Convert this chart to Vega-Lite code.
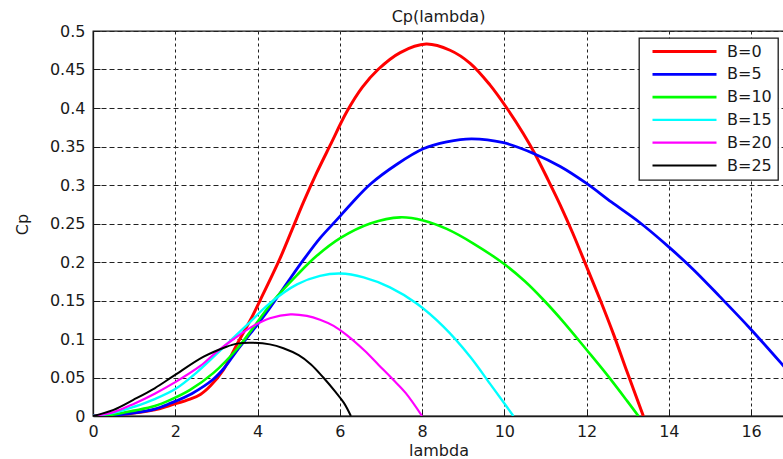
{
  "$schema": "https://vega.github.io/schema/vega-lite/v6.json",
  "autosize": "none",
  "padding": {"left": 93, "top": 31, "right": 0, "bottom": 43},
  "width": 691,
  "height": 385,
  "background": "white",
  "title": {"text": "Cp(lambda)", "font": "DejaVu Sans", "fontSize": 16, "fontWeight": "normal", "color": "#1a1a1a", "offset": 0, "dy": 2, "anchor": "middle"},
  "config": {
    "view": {"stroke": "#1a1a1a", "strokeWidth": 1.3},
    "legend": {"strokeWidth": 1.3}
  },
  "datasets": {
    "curves": [
      {"B": "B=0", "lambda": 0, "cp": 0}, {"B": "B=0", "lambda": 0.5, "cp": 0.001}, {"B": "B=0", "lambda": 1, "cp": 0.004}, {"B": "B=0", "lambda": 1.5, "cp": 0.008}, {"B": "B=0", "lambda": 1.88, "cp": 0.014}, {"B": "B=0", "lambda": 2.36, "cp": 0.022}, {"B": "B=0", "lambda": 2.61, "cp": 0.028}, {"B": "B=0", "lambda": 2.85, "cp": 0.039}, {"B": "B=0", "lambda": 3.17, "cp": 0.06}, {"B": "B=0", "lambda": 3.5, "cp": 0.093}, {"B": "B=0", "lambda": 3.82, "cp": 0.124}, {"B": "B=0", "lambda": 4.07, "cp": 0.151}, {"B": "B=0", "lambda": 4.55, "cp": 0.205}, {"B": "B=0", "lambda": 4.84, "cp": 0.242}, {"B": "B=0", "lambda": 5.12, "cp": 0.278}, {"B": "B=0", "lambda": 5.44, "cp": 0.316}, {"B": "B=0", "lambda": 5.77, "cp": 0.352}, {"B": "B=0", "lambda": 6.17, "cp": 0.395}, {"B": "B=0", "lambda": 6.55, "cp": 0.427}, {"B": "B=0", "lambda": 6.93, "cp": 0.45}, {"B": "B=0", "lambda": 7.47, "cp": 0.472}, {"B": "B=0", "lambda": 8.1, "cp": 0.483}, {"B": "B=0", "lambda": 8.68, "cp": 0.475}, {"B": "B=0", "lambda": 9.17, "cp": 0.458}, {"B": "B=0", "lambda": 9.65, "cp": 0.43}, {"B": "B=0", "lambda": 10.06, "cp": 0.4}, {"B": "B=0", "lambda": 10.46, "cp": 0.367}, {"B": "B=0", "lambda": 10.75, "cp": 0.34}, {"B": "B=0", "lambda": 11.07, "cp": 0.306}, {"B": "B=0", "lambda": 11.36, "cp": 0.274}, {"B": "B=0", "lambda": 11.66, "cp": 0.238}, {"B": "B=0", "lambda": 12.0, "cp": 0.194}, {"B": "B=0", "lambda": 12.33, "cp": 0.151}, {"B": "B=0", "lambda": 12.65, "cp": 0.107}, {"B": "B=0", "lambda": 12.98, "cp": 0.058}, {"B": "B=0", "lambda": 13.38, "cp": 0},

      {"B": "B=5", "lambda": 0, "cp": 0}, {"B": "B=5", "lambda": 0.5, "cp": 0.001}, {"B": "B=5", "lambda": 1, "cp": 0.004}, {"B": "B=5", "lambda": 1.5, "cp": 0.009}, {"B": "B=5", "lambda": 1.88, "cp": 0.0165}, {"B": "B=5", "lambda": 2.4, "cp": 0.029}, {"B": "B=5", "lambda": 2.93, "cp": 0.048}, {"B": "B=5", "lambda": 3.2, "cp": 0.063}, {"B": "B=5", "lambda": 3.5, "cp": 0.085}, {"B": "B=5", "lambda": 3.9, "cp": 0.112}, {"B": "B=5", "lambda": 4.23, "cp": 0.135}, {"B": "B=5", "lambda": 4.71, "cp": 0.172}, {"B": "B=5", "lambda": 5.12, "cp": 0.203}, {"B": "B=5", "lambda": 5.52, "cp": 0.231}, {"B": "B=5", "lambda": 5.93, "cp": 0.255}, {"B": "B=5", "lambda": 6.3, "cp": 0.277}, {"B": "B=5", "lambda": 6.74, "cp": 0.301}, {"B": "B=5", "lambda": 7.39, "cp": 0.327}, {"B": "B=5", "lambda": 8.03, "cp": 0.347}, {"B": "B=5", "lambda": 8.6, "cp": 0.356}, {"B": "B=5", "lambda": 9.2, "cp": 0.36}, {"B": "B=5", "lambda": 9.98, "cp": 0.355}, {"B": "B=5", "lambda": 10.71, "cp": 0.341}, {"B": "B=5", "lambda": 11.36, "cp": 0.324}, {"B": "B=5", "lambda": 12.0, "cp": 0.302}, {"B": "B=5", "lambda": 12.6, "cp": 0.278}, {"B": "B=5", "lambda": 13.3, "cp": 0.251}, {"B": "B=5", "lambda": 13.99, "cp": 0.22}, {"B": "B=5", "lambda": 14.6, "cp": 0.19}, {"B": "B=5", "lambda": 15.24, "cp": 0.155}, {"B": "B=5", "lambda": 15.97, "cp": 0.114}, {"B": "B=5", "lambda": 16.74, "cp": 0.068}, {"B": "B=5", "lambda": 17, "cp": 0.052},

      {"B": "B=10", "lambda": 0, "cp": 0}, {"B": "B=10", "lambda": 0.5, "cp": 0.002}, {"B": "B=10", "lambda": 1, "cp": 0.007}, {"B": "B=10", "lambda": 1.5, "cp": 0.013}, {"B": "B=10", "lambda": 1.88, "cp": 0.021}, {"B": "B=10", "lambda": 2.36, "cp": 0.034}, {"B": "B=10", "lambda": 2.93, "cp": 0.056}, {"B": "B=10", "lambda": 3.5, "cp": 0.087}, {"B": "B=10", "lambda": 3.9, "cp": 0.115}, {"B": "B=10", "lambda": 4.39, "cp": 0.15}, {"B": "B=10", "lambda": 4.96, "cp": 0.183}, {"B": "B=10", "lambda": 5.44, "cp": 0.208}, {"B": "B=10", "lambda": 6.01, "cp": 0.231}, {"B": "B=10", "lambda": 6.74, "cp": 0.25}, {"B": "B=10", "lambda": 7.47, "cp": 0.258}, {"B": "B=10", "lambda": 8.03, "cp": 0.254}, {"B": "B=10", "lambda": 8.6, "cp": 0.243}, {"B": "B=10", "lambda": 9.25, "cp": 0.224}, {"B": "B=10", "lambda": 9.98, "cp": 0.198}, {"B": "B=10", "lambda": 10.5, "cp": 0.175}, {"B": "B=10", "lambda": 10.95, "cp": 0.151}, {"B": "B=10", "lambda": 11.44, "cp": 0.122}, {"B": "B=10", "lambda": 12.0, "cp": 0.086}, {"B": "B=10", "lambda": 12.49, "cp": 0.054}, {"B": "B=10", "lambda": 12.98, "cp": 0.02}, {"B": "B=10", "lambda": 13.26, "cp": 0},

      {"B": "B=15", "lambda": 0, "cp": 0}, {"B": "B=15", "lambda": 0.5, "cp": 0.004}, {"B": "B=15", "lambda": 1, "cp": 0.012}, {"B": "B=15", "lambda": 1.5, "cp": 0.022}, {"B": "B=15", "lambda": 2, "cp": 0.035}, {"B": "B=15", "lambda": 2.53, "cp": 0.057}, {"B": "B=15", "lambda": 3.09, "cp": 0.085}, {"B": "B=15", "lambda": 3.74, "cp": 0.118}, {"B": "B=15", "lambda": 4.31, "cp": 0.147}, {"B": "B=15", "lambda": 4.96, "cp": 0.171}, {"B": "B=15", "lambda": 5.52, "cp": 0.182}, {"B": "B=15", "lambda": 6.01, "cp": 0.185}, {"B": "B=15", "lambda": 6.58, "cp": 0.18}, {"B": "B=15", "lambda": 7.22, "cp": 0.167}, {"B": "B=15", "lambda": 7.87, "cp": 0.146}, {"B": "B=15", "lambda": 8.52, "cp": 0.116}, {"B": "B=15", "lambda": 9.17, "cp": 0.077}, {"B": "B=15", "lambda": 9.65, "cp": 0.042}, {"B": "B=15", "lambda": 10.06, "cp": 0.012}, {"B": "B=15", "lambda": 10.22, "cp": 0},

      {"B": "B=20", "lambda": 0, "cp": 0}, {"B": "B=20", "lambda": 0.5, "cp": 0.005}, {"B": "B=20", "lambda": 1, "cp": 0.016}, {"B": "B=20", "lambda": 1.5, "cp": 0.029}, {"B": "B=20", "lambda": 2, "cp": 0.044}, {"B": "B=20", "lambda": 2.61, "cp": 0.065}, {"B": "B=20", "lambda": 3.0, "cp": 0.083}, {"B": "B=20", "lambda": 3.42, "cp": 0.1}, {"B": "B=20", "lambda": 3.9, "cp": 0.117}, {"B": "B=20", "lambda": 4.3, "cp": 0.127}, {"B": "B=20", "lambda": 4.8, "cp": 0.132}, {"B": "B=20", "lambda": 5.2, "cp": 0.13}, {"B": "B=20", "lambda": 5.52, "cp": 0.125}, {"B": "B=20", "lambda": 5.85, "cp": 0.117}, {"B": "B=20", "lambda": 6.17, "cp": 0.105}, {"B": "B=20", "lambda": 6.6, "cp": 0.085}, {"B": "B=20", "lambda": 6.95, "cp": 0.066}, {"B": "B=20", "lambda": 7.3, "cp": 0.047}, {"B": "B=20", "lambda": 7.6, "cp": 0.03}, {"B": "B=20", "lambda": 8.0, "cp": 0},

      {"B": "B=25", "lambda": 0, "cp": 0}, {"B": "B=25", "lambda": 0.5, "cp": 0.008}, {"B": "B=25", "lambda": 0.98, "cp": 0.021}, {"B": "B=25", "lambda": 1.5, "cp": 0.036}, {"B": "B=25", "lambda": 1.96, "cp": 0.052}, {"B": "B=25", "lambda": 2.69, "cp": 0.077}, {"B": "B=25", "lambda": 3.2, "cp": 0.089}, {"B": "B=25", "lambda": 3.5, "cp": 0.094}, {"B": "B=25", "lambda": 3.9, "cp": 0.095}, {"B": "B=25", "lambda": 4.3, "cp": 0.093}, {"B": "B=25", "lambda": 4.63, "cp": 0.088}, {"B": "B=25", "lambda": 5.0, "cp": 0.079}, {"B": "B=25", "lambda": 5.3, "cp": 0.067}, {"B": "B=25", "lambda": 5.6, "cp": 0.05}, {"B": "B=25", "lambda": 5.9, "cp": 0.031}, {"B": "B=25", "lambda": 6.1, "cp": 0.017}, {"B": "B=25", "lambda": 6.27, "cp": 0}
    ]
  },
  "data": {"name": "curves"},
  "mark": {"type": "line", "interpolate": "catmull-rom", "clip": true},
  "encoding": {
    "x": {
      "field": "lambda", "type": "quantitative",
      "scale": {"domain": [0, 16.8], "nice": false, "zero": false},
      "axis": {
        "values": [0, 2, 4, 6, 8, 10, 12, 14, 16], "format": "d",
        "grid": true, "gridDash": [3, 3], "gridColor": "#222", "gridWidth": 1,
        "tickSize": -7, "tickColor": "#1a1a1a", "tickWidth": 1,
        "domainColor": "#1a1a1a", "domainWidth": 1.3,
        "labelFont": "DejaVu Sans", "labelFontSize": 16, "labelColor": "#1a1a1a", "labelPadding": 14, "labelFlush": false,
        "title": "lambda", "titleFont": "DejaVu Sans", "titleFontSize": 16, "titleFontWeight": "normal", "titleColor": "#1a1a1a",
        "titleBaseline": "alphabetic", "titleY": 39
      }
    },
    "y": {
      "field": "cp", "type": "quantitative",
      "scale": {"domain": [0, 0.5], "nice": false},
      "axis": {
        "values": [0, 0.05, 0.1, 0.15, 0.2, 0.25, 0.3, 0.35, 0.4, 0.45, 0.5], "format": ".2~f",
        "grid": true, "gridDash": [5, 3], "gridColor": "#222", "gridWidth": 1,
        "tickSize": -7, "tickColor": "#1a1a1a", "tickWidth": 1,
        "domainColor": "#1a1a1a", "domainWidth": 1.3,
        "labelFont": "DejaVu Sans", "labelFontSize": 16, "labelColor": "#1a1a1a", "labelPadding": 15, "labelFlush": false,
        "title": "Cp", "titleFont": "DejaVu Sans", "titleFontSize": 16, "titleFontWeight": "normal", "titleColor": "#1a1a1a",
        "titleX": -66, "titleY": 193, "titleAngle": -90, "titleBaseline": "alphabetic"
      }
    },
    "color": {
      "field": "B", "type": "nominal",
      "scale": {"domain": ["B=0", "B=5", "B=10", "B=15", "B=20", "B=25"], "range": ["#ff0000", "#0000ff", "#00ff00", "#00ffff", "#ff00ff", "#000000"]},
      "legend": {
        "orient": "none", "legendX": 546, "legendY": 7, "title": null,
        "symbolType": "stroke", "symbolSize": 4096, "symbolStrokeWidth": 2.5,
        "clipHeight": 15, "rowPadding": 5.8, "padding": 6, "symbolOffset": 6, "labelOffset": 9,
        "labelFont": "DejaVu Sans", "labelFontSize": 16, "labelColor": "#1a1a1a",
        "strokeColor": "#1a1a1a", "fillColor": "white"
      }
    },
    "strokeWidth": {
      "field": "B", "type": "nominal",
      "scale": {"domain": ["B=0", "B=5", "B=10", "B=15", "B=20", "B=25"], "range": [3, 2, 2, 2, 2, 2]},
      "legend": null
    }
  }
}
